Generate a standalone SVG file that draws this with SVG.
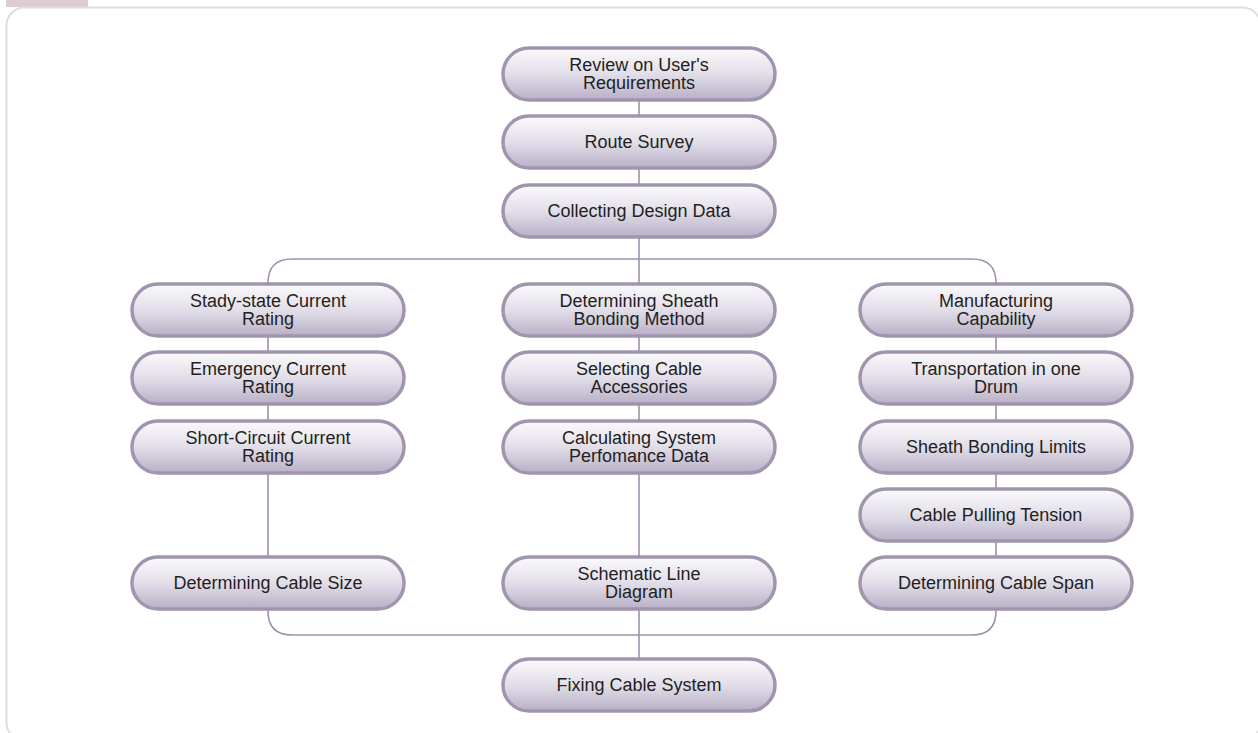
<svg xmlns="http://www.w3.org/2000/svg" width="1258" height="733" viewBox="0 0 1258 733">
<defs>
<linearGradient id="g" x1="0" y1="0" x2="0" y2="1">
<stop offset="0" stop-color="#fbfafc"/>
<stop offset="0.5" stop-color="#e2dee9"/>
<stop offset="1" stop-color="#b8b0c7"/>
</linearGradient>
<style>
.n{fill:url(#g);stroke:#a195ae;stroke-width:3.5}
.t{font-family:"Liberation Sans",Arial,sans-serif;font-size:18px;fill:#231f20;text-anchor:middle}
.c{fill:none;stroke:#9d92ab;stroke-width:1.6}
</style>
</defs>
<rect x="6" y="0" width="82" height="7" fill="#dccdd3"/>
<rect x="6.5" y="7.5" width="1254" height="733" rx="18" fill="#fff" stroke="#e2dbe0" stroke-width="2"/>
<g id="connectors">
<line class="c" x1="639" y1="100" x2="639" y2="557"/>
<line class="c" x1="639" y1="609" x2="639" y2="659"/>
<line class="c" x1="268" y1="284" x2="268" y2="557"/>
<line class="c" x1="996" y1="284" x2="996" y2="557"/>
<path class="c" d="M268 284 V283 Q268 259 292 259 H972 Q996 259 996 283 V284"/>
<path class="c" d="M268 609 V611 Q268 635 292 635 H972 Q996 635 996 611 V609"/>
</g>
<g id="n1"><rect class="n" x="503" y="48" width="272" height="52" rx="26"/><text class="t" x="639" y="71">Review on User's</text><text class="t" x="639" y="89">Requirements</text></g>
<g id="n2"><rect class="n" x="503" y="116" width="272" height="52" rx="26"/><text class="t" x="639" y="148">Route Survey</text></g>
<g id="n3"><rect class="n" x="503" y="185" width="272" height="52" rx="26"/><text class="t" x="639" y="217">Collecting Design Data</text></g>
<g id="n4"><rect class="n" x="132" y="284" width="272" height="52" rx="26"/><text class="t" x="268" y="307">Stady-state Current</text><text class="t" x="268" y="325">Rating</text></g>
<g id="n5"><rect class="n" x="132" y="352" width="272" height="52" rx="26"/><text class="t" x="268" y="375">Emergency Current</text><text class="t" x="268" y="393">Rating</text></g>
<g id="n6"><rect class="n" x="132" y="421" width="272" height="52" rx="26"/><text class="t" x="268" y="444">Short-Circuit Current</text><text class="t" x="268" y="462">Rating</text></g>
<g id="n7"><rect class="n" x="132" y="557" width="272" height="52" rx="26"/><text class="t" x="268" y="589">Determining Cable Size</text></g>
<g id="n8"><rect class="n" x="503" y="284" width="272" height="52" rx="26"/><text class="t" x="639" y="307">Determining Sheath</text><text class="t" x="639" y="325">Bonding Method</text></g>
<g id="n9"><rect class="n" x="503" y="352" width="272" height="52" rx="26"/><text class="t" x="639" y="375">Selecting Cable</text><text class="t" x="639" y="393">Accessories</text></g>
<g id="n10"><rect class="n" x="503" y="421" width="272" height="52" rx="26"/><text class="t" x="639" y="444">Calculating System</text><text class="t" x="639" y="462">Perfomance Data</text></g>
<g id="n11"><rect class="n" x="503" y="557" width="272" height="52" rx="26"/><text class="t" x="639" y="580">Schematic Line</text><text class="t" x="639" y="598">Diagram</text></g>
<g id="n12"><rect class="n" x="503" y="659" width="272" height="52" rx="26"/><text class="t" x="639" y="691">Fixing Cable System</text></g>
<g id="n13"><rect class="n" x="860" y="284" width="272" height="52" rx="26"/><text class="t" x="996" y="307">Manufacturing</text><text class="t" x="996" y="325">Capability</text></g>
<g id="n14"><rect class="n" x="860" y="352" width="272" height="52" rx="26"/><text class="t" x="996" y="375">Transportation in one</text><text class="t" x="996" y="393">Drum</text></g>
<g id="n15"><rect class="n" x="860" y="421" width="272" height="52" rx="26"/><text class="t" x="996" y="453">Sheath Bonding Limits</text></g>
<g id="n16"><rect class="n" x="860" y="489" width="272" height="52" rx="26"/><text class="t" x="996" y="521">Cable Pulling Tension</text></g>
<g id="n17"><rect class="n" x="860" y="557" width="272" height="52" rx="26"/><text class="t" x="996" y="589">Determining Cable Span</text></g>
</svg>
